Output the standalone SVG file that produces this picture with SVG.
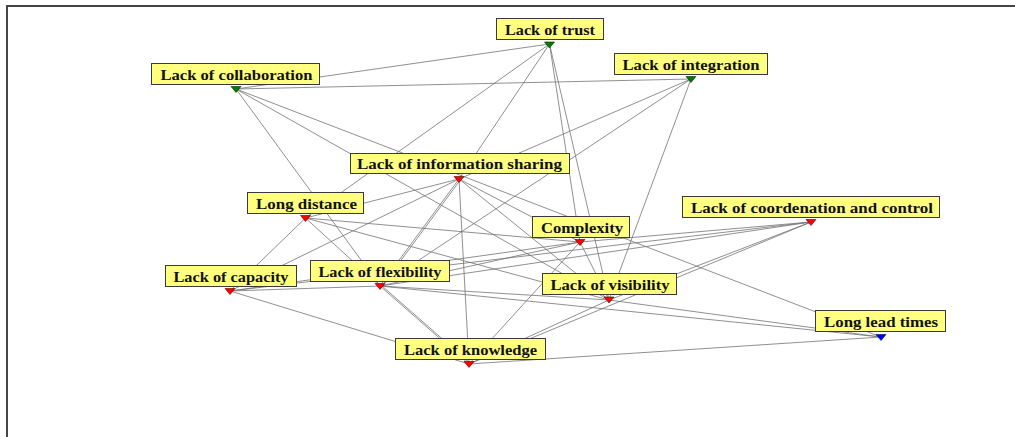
<svg xmlns="http://www.w3.org/2000/svg" width="1015" height="437" viewBox="0 0 1015 437">
  <style>
    .frame { stroke: #454545; stroke-width: 2; fill: none; }
    .edge { stroke: #737373; stroke-width: 0.8; fill: none; }
    .box { fill: #ffff80; stroke: #3a3a3a; stroke-width: 1; }
    .lbl { font-family: "Liberation Serif", "Times New Roman", serif; font-weight: bold; font-size: 15.5px; fill: #111; }
    .red { fill: #ff0000; stroke: #5a0000; stroke-width: 0.6; }
    .green { fill: #007a00; stroke: #003000; stroke-width: 0.6; }
    .blue { fill: #0000ff; stroke: #00005a; stroke-width: 0.6; }
  </style>
  <rect width="1015" height="437" fill="#ffffff"/>
  <!-- frame -->
  <path class="frame" d="M7 437 V6 H1015"/>

  <!-- connectors -->
  <g id="connectors">
    <!-- Lack of trust -->
    <line class="edge" x1="549.5" y1="44" x2="236" y2="89"/>
    <line class="edge" x1="549.5" y1="44" x2="459" y2="179"/>
    <line class="edge" x1="549.5" y1="44" x2="305.5" y2="218"/>
    <line class="edge" x1="549.5" y1="44" x2="580" y2="242"/>
    <line class="edge" x1="549.5" y1="44" x2="609" y2="300"/>
    <!-- Lack of collaboration -->
    <line class="edge" x1="236" y1="89" x2="691" y2="79"/>
    <line class="edge" x1="236" y1="89" x2="881" y2="337"/>
    <line class="edge" x1="236" y1="89" x2="380" y2="286"/>
    <line class="edge" x1="236" y1="89" x2="609" y2="300"/>
    <!-- Lack of integration -->
    <line class="edge" x1="691" y1="79" x2="459" y2="179"/>
    <line class="edge" x1="691" y1="79" x2="380" y2="286"/>
    <line class="edge" x1="691" y1="79" x2="609" y2="300"/>
    <!-- Lack of information sharing -->
    <line class="edge" x1="459" y1="179" x2="305.5" y2="218"/>
    <line class="edge" x1="459" y1="179" x2="230" y2="291"/>
    <line class="edge" x1="459" y1="179" x2="380" y2="286"/>
    <line class="edge" x1="461" y1="179" x2="382" y2="286"/>
    <line class="edge" x1="459" y1="179" x2="469" y2="364"/>
    <line class="edge" x1="459" y1="179" x2="580" y2="242"/>
    <line class="edge" x1="459" y1="179" x2="609" y2="300"/>
    <!-- Long distance -->
    <line class="edge" x1="305.5" y1="218" x2="230" y2="291"/>
    <line class="edge" x1="305.5" y1="218" x2="380" y2="286"/>
    <line class="edge" x1="305.5" y1="218" x2="580" y2="242"/>
    <line class="edge" x1="305.5" y1="218" x2="609" y2="300"/>
    <!-- Complexity -->
    <line class="edge" x1="580" y1="242" x2="811" y2="222"/>
    <line class="edge" x1="580" y1="242" x2="230" y2="291"/>
    <line class="edge" x1="580" y1="242" x2="380" y2="286"/>
    <line class="edge" x1="580" y1="242" x2="609" y2="300"/>
    <line class="edge" x1="580" y1="242" x2="469" y2="364"/>
    <!-- Lack of coordenation and control -->
    <line class="edge" x1="811" y1="222" x2="230" y2="291"/>
    <line class="edge" x1="811" y1="222" x2="380" y2="286"/>
    <line class="edge" x1="811" y1="222" x2="609" y2="300"/>
    <line class="edge" x1="811" y1="222" x2="469" y2="364"/>
    <!-- Lack of capacity -->
    <line class="edge" x1="230" y1="291" x2="380" y2="286"/>
    <line class="edge" x1="230" y1="291" x2="469" y2="364"/>
    <!-- Lack of flexibility -->
    <line class="edge" x1="380" y1="286" x2="609" y2="300"/>
    <line class="edge" x1="380" y1="286" x2="881" y2="337"/>
    <line class="edge" x1="380" y1="286" x2="469" y2="364"/>
    <line class="edge" x1="382" y1="286" x2="471" y2="364"/>
    <!-- Lack of visibility -->
    <line class="edge" x1="609" y1="300" x2="881" y2="337"/>
    <line class="edge" x1="609" y1="300" x2="469" y2="364"/>
    <!-- Lack of knowledge -->
    <line class="edge" x1="469" y1="364" x2="881" y2="337"/>
  </g>

  <g id="n-trust">
    <rect class="box" x="496.5" y="18.5" width="107" height="21"/>
    <text class="lbl" x="505" y="34.5" textLength="90" lengthAdjust="spacingAndGlyphs">Lack of trust</text>
    <path class="green" d="M544.5 42 H554.5 L549.5 48 Z"/>
  </g>
  <g id="n-collaboration">
    <rect class="box" x="151.5" y="63.5" width="168" height="21"/>
    <text class="lbl" x="160.5" y="79.5" textLength="152" lengthAdjust="spacingAndGlyphs">Lack of collaboration</text>
    <path class="green" d="M231 86.5 H241 L236 92.5 Z"/>
  </g>
  <g id="n-integration">
    <rect class="box" x="614.5" y="53.5" width="153" height="21"/>
    <text class="lbl" x="622.5" y="69.5" textLength="137" lengthAdjust="spacingAndGlyphs">Lack of integration</text>
    <path class="green" d="M686 76.5 H696 L691 82.5 Z"/>
  </g>
  <g id="n-information-sharing">
    <rect class="box" x="350.5" y="153.5" width="219" height="20"/>
    <text class="lbl" x="357" y="169" textLength="205" lengthAdjust="spacingAndGlyphs">Lack of information sharing</text>
    <path class="red" d="M454 176.5 H464 L459 182.5 Z"/>
  </g>
  <g id="n-long-distance">
    <rect class="box" x="247.5" y="192.5" width="116" height="21"/>
    <text class="lbl" x="256" y="208.5" textLength="101" lengthAdjust="spacingAndGlyphs">Long distance</text>
    <path class="red" d="M300.5 215.5 H310.5 L305.5 221.5 Z"/>
  </g>
  <g id="n-complexity">
    <rect class="box" x="532.5" y="216.5" width="97" height="21"/>
    <text class="lbl" x="541" y="232.5" textLength="82" lengthAdjust="spacingAndGlyphs">Complexity</text>
    <path class="red" d="M575 239.5 H585 L580 245.5 Z"/>
  </g>
  <g id="n-coordenation">
    <rect class="box" x="682.5" y="196.5" width="257" height="21"/>
    <text class="lbl" x="691" y="212.5" textLength="242" lengthAdjust="spacingAndGlyphs">Lack of coordenation and control</text>
    <path class="red" d="M806 219.5 H816 L811 225.5 Z"/>
  </g>
  <g id="n-capacity">
    <rect class="box" x="165.5" y="265.5" width="131" height="21"/>
    <text class="lbl" x="173.5" y="281.5" textLength="115" lengthAdjust="spacingAndGlyphs">Lack of capacity</text>
    <path class="red" d="M225 288.5 H235 L230 294.5 Z"/>
  </g>
  <g id="n-flexibility">
    <rect class="box" x="310.5" y="260.5" width="139" height="21"/>
    <text class="lbl" x="318.5" y="276.5" textLength="123" lengthAdjust="spacingAndGlyphs">Lack of flexibility</text>
    <path class="red" d="M375 283.5 H385 L380 289.5 Z"/>
  </g>
  <g id="n-visibility">
    <rect class="box" x="542.5" y="273.5" width="134" height="21"/>
    <text class="lbl" x="550.5" y="289.5" textLength="119" lengthAdjust="spacingAndGlyphs">Lack of visibility</text>
    <path class="red" d="M604 297 H614 L609 303 Z"/>
  </g>
  <g id="n-long-lead-times">
    <rect class="box" x="815.5" y="310.5" width="130" height="21"/>
    <text class="lbl" x="824" y="326.5" textLength="114" lengthAdjust="spacingAndGlyphs">Long lead times</text>
    <path class="blue" d="M876 334.5 H886 L881 340.5 Z"/>
  </g>
  <g id="n-knowledge">
    <rect class="box" x="395.5" y="338.5" width="150" height="21"/>
    <text class="lbl" x="404" y="354.5" textLength="133" lengthAdjust="spacingAndGlyphs">Lack of knowledge</text>
    <path class="red" d="M464 361.5 H474 L469 367.5 Z"/>
  </g>
</svg>
